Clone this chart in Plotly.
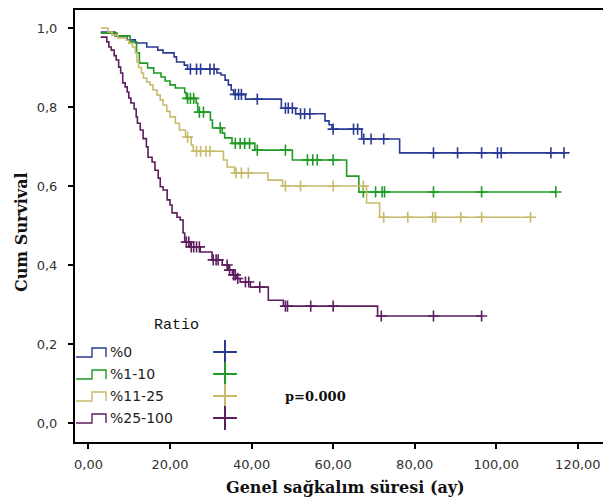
import plotly.graph_objects as go

# ---------------- data ----------------
group_names = ["%0", "%1-10", "%11-25", "%25-100"]

# Kaplan-Meier steps: time of each drop and survival after it
t_0 = [3.0, 6.5, 9.5, 11.5, 14.3, 17.0, 18.3, 21.0, 21.6, 23.5, 24.3, 31.5, 32.5,
       33.5, 34.3, 35.0, 35.6, 38.5, 47.3, 50.8, 58.0, 59.0, 59.7, 67.0, 76.3]
s_0 = [0.99, 0.98, 0.97, 0.962, 0.952, 0.944, 0.937, 0.927, 0.914, 0.906, 0.896, 0.886, 0.881,
       0.868, 0.856, 0.843, 0.832, 0.82, 0.797, 0.783, 0.765, 0.755, 0.744, 0.719, 0.684]
c_0 = [25.0, 26.5, 27.5, 29.8, 30.8, 36.0, 36.8, 37.5, 41.4, 48.3, 49.0, 50.0, 52.0, 53.0,
       54.3, 60.0, 65.0, 66.0, 67.5, 69.3, 72.4, 84.6, 90.5, 96.4, 100.3, 101.2, 113.4, 116.6]

t_1 = [3.0, 7.0, 10.2, 11.8, 12.5, 14.5, 16.0, 17.8, 18.8, 20.0, 21.3, 23.6, 24.0, 26.4,
       26.8, 29.9, 30.4, 32.8, 33.4, 35.2, 40.8, 50.0, 63.3, 66.3]
s_1 = [0.987, 0.98, 0.965, 0.937, 0.911, 0.899, 0.886, 0.876, 0.866, 0.856, 0.848, 0.836, 0.822, 0.81,
       0.787, 0.767, 0.747, 0.734, 0.722, 0.708, 0.691, 0.666, 0.625, 0.585]
c_1 = [24.3, 25.0, 25.8, 27.2, 28.2, 32.3, 36.0, 37.2, 38.3, 39.5, 41.4, 48.3, 53.7, 55.0,
       56.1, 60.0, 67.4, 70.4, 72.0, 72.6, 84.6, 96.4, 114.6]

t_2 = [3.0, 4.8, 5.8, 7.2, 9.3, 9.9, 10.8, 11.5, 11.9, 12.3, 13.0, 13.5, 14.3, 15.1, 15.8,
       16.8, 17.6, 18.3, 19.2, 20.0, 21.3, 22.3, 23.8, 25.2, 25.7, 33.1, 34.0, 35.8, 44.0,
       47.6, 68.2, 71.4]
s_2 = [1.0, 0.99, 0.982, 0.975, 0.969, 0.961, 0.952, 0.937, 0.914, 0.9, 0.886, 0.873, 0.863, 0.856, 0.843,
       0.83, 0.818, 0.805, 0.789, 0.775, 0.759, 0.742, 0.724, 0.704, 0.688, 0.666, 0.648, 0.633, 0.615,
       0.6, 0.557, 0.521]
c_2 = [24.3, 26.5, 27.5, 28.8, 29.8, 36.2, 37.5, 39.2, 48.3, 52.0, 60.0, 67.4, 72.4, 78.3,
       84.4, 85.1, 91.3, 96.4, 108.4]

t_3 = [3.0, 4.5, 5.0, 5.6, 6.3, 6.8, 7.4, 7.9, 8.4, 9.0, 9.5, 9.9, 10.4, 11.2, 11.7, 12.0,
       12.7, 13.4, 14.2, 14.6, 15.6, 16.3, 17.1, 17.6, 18.3, 19.3, 20.0, 20.5, 21.7, 22.5,
       23.2, 23.6, 25.0, 27.4, 30.3, 32.8, 34.3, 35.3, 36.2, 37.2, 39.7, 44.1, 47.8, 70.9]
s_3 = [0.977, 0.965, 0.952, 0.944, 0.93, 0.919, 0.901, 0.886, 0.861, 0.851, 0.838, 0.823, 0.81, 0.795,
       0.775, 0.759, 0.742, 0.72, 0.699, 0.673, 0.661, 0.64, 0.62, 0.598, 0.59, 0.565, 0.552, 0.532,
       0.521, 0.514, 0.481, 0.458, 0.446, 0.433, 0.413, 0.4, 0.387, 0.375, 0.366, 0.357, 0.344,
       0.311, 0.296, 0.271]
c_3 = [24.0, 24.6, 25.2, 25.8, 26.5, 27.2, 30.6, 31.3, 31.8, 34.0, 34.6, 35.6, 36.0, 36.6,
       38.5, 39.3, 42.0, 48.3, 48.8, 54.5, 60.0, 71.8, 84.6, 96.4]

x_tick_vals = [0, 20, 40, 60, 80, 100, 120]
x_tick_text = ["0,00", "20,00", "40,00", "60,00", "80,00", "100,00", "120,00"]
y_tick_vals = [0.0, 0.2, 0.4, 0.6, 0.8, 1.0]
y_tick_text = ["0,0", "0,2", "0,4", "0,6", "0,8", "1,0"]

x_title = "Genel sağkalım süresi (ay)"
y_title = "Cum Survival"
legend_title = "Ratio"
p_text = "p=0.000"

# ---------------- styles ----------------
colors = ["#2a3a94", "#1f9a24", "#c8bb6c", "#5c1e5e"]
series = [(t_0, s_0, c_0), (t_1, s_1, c_1), (t_2, s_2, c_2), (t_3, s_3, c_3)]


def surv_at(ts, ss, c):
    val = ss[0]
    for t, s in zip(ts, ss):
        if t <= c:
            val = s
    return val


fig = go.Figure()

for name, col, (ts, ss, cs) in zip(group_names, colors, series):
    xs = list(ts)
    ys = list(ss)
    end = max(cs + ts)
    if end > xs[-1]:
        xs.append(end)
        ys.append(ys[-1])
    fig.add_trace(go.Scatter(x=xs, y=ys, mode="lines", line=dict(color=col, width=1.6, shape="hv"),
                             showlegend=False, hoverinfo="skip"))
    fig.add_trace(go.Scatter(x=cs, y=[surv_at(ts, ss, c) for c in cs], mode="markers",
                             marker=dict(symbol="cross-thin", size=8, line=dict(color=col, width=1.6)),
                             showlegend=False, hoverinfo="skip"))

# ---------------- custom legend on an overlay axis in (page) pixel units ----------------
PAGE_OFF = 8  # body margin of the html page
PX_L, PX_R, PX_T, PX_B = 75, 606, 10, 442
W, H = 611, 501


def px_to_paper(px, py):
    return (px - PX_L) / (PX_R - PX_L), (PX_B - py) / (PX_B - PX_T)


row_y = [352, 374, 396, 418]
for name, col, ry in zip(group_names, colors, row_y):
    fig.add_trace(go.Scatter(x=[76, 92, 92, 106, 106], y=[ry + 5, ry + 5, ry - 4, ry - 4, ry + 5],
                             mode="lines", line=dict(color=col, width=1.4), xaxis="x2", yaxis="y2",
                             showlegend=False, hoverinfo="skip"))
    fig.add_trace(go.Scatter(x=[225], y=[ry], mode="markers", xaxis="x2", yaxis="y2",
                             marker=dict(symbol="cross-thin", size=17, line=dict(color=col, width=2)),
                             showlegend=False, hoverinfo="skip"))
    fig.add_annotation(x=108, y=ry, xref="x2", yref="y2", text=name, showarrow=False,
                       xanchor="left", yanchor="middle",
                       font=dict(family="DejaVu Sans", size=14, color="#222"))

fig.add_annotation(x=176, y=325, xref="x2", yref="y2", text=legend_title, showarrow=False,
                   xanchor="center", yanchor="middle",
                   font=dict(family="Liberation Mono", size=15, color="#111"))
fig.add_annotation(x=315, y=396, xref="x2", yref="y2", text="<b>" + p_text + "</b>", showarrow=False,
                   xanchor="center", yanchor="middle",
                   font=dict(family="DejaVu Serif", size=13, color="#111"))

xt = px_to_paper(345, 487)
fig.add_annotation(x=xt[0], y=xt[1], xref="paper", yref="paper", text="<b>" + x_title + "</b>",
                   showarrow=False, xanchor="center", yanchor="middle",
                   font=dict(family="DejaVu Serif", size=16, color="#111"))
yt = px_to_paper(22, 232)
fig.add_annotation(x=yt[0], y=yt[1], xref="paper", yref="paper", text="<b>" + y_title + "</b>",
                   showarrow=False, textangle=-90, xanchor="center", yanchor="middle",
                   font=dict(family="DejaVu Serif", size=16, color="#111"))

axis_common = dict(showgrid=False, zeroline=False, showline=True, linecolor="black", linewidth=2,
                   mirror=True, ticks="outside", ticklen=5, tickwidth=1.5, tickcolor="black",
                   tickfont=dict(family="DejaVu Sans", size=13, color="#333"))

fig.update_layout(
    width=W, height=H,
    margin=dict(l=PX_L - PAGE_OFF, r=W - (PX_R - PAGE_OFF), t=PX_T - PAGE_OFF,
                b=H - (PX_B - PAGE_OFF), autoexpand=False),
    paper_bgcolor="white", plot_bgcolor="white",
    xaxis=dict(range=[-3.3, 126.9], tickvals=x_tick_vals, ticktext=x_tick_text,
               ticklabelstandoff=4, **axis_common),
    yaxis=dict(range=[-0.048, 1.0456], tickvals=y_tick_vals, ticktext=y_tick_text,
               ticklabelstandoff=8, **axis_common),
    xaxis2=dict(range=[PX_L, PX_R], overlaying="x", visible=False, fixedrange=True),
    yaxis2=dict(range=[PX_B, PX_T], overlaying="y", visible=False, fixedrange=True),
    showlegend=False,
)

fig.write_html("out.html")
